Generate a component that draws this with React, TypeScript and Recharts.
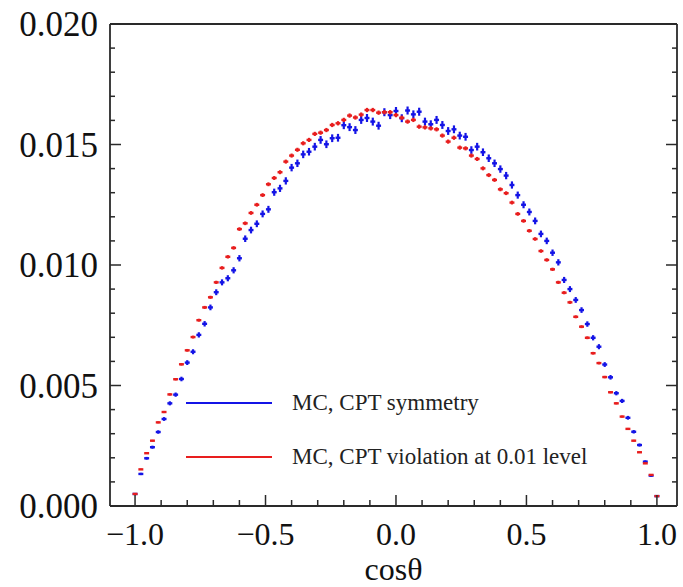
import React from 'react';
import { ScatterChart, Scatter, XAxis, YAxis, ErrorBar, Legend } from 'recharts';

// 90 bins over cosθ in [-1, 1], one value per bin edge/centre (91 points)
const BINS = 90;
const HALF_BIN = 0.0095;

// MC, CPT symmetry (blue)
const cptSymmetry = [
  0.0005, 0.00133, 0.00198, 0.00244, 0.00307, 0.00361, 0.00426, 0.00462, 0.00527, 0.00595,
  0.0064, 0.0071, 0.00756, 0.00824, 0.00887, 0.00928, 0.00945, 0.00978, 0.01028, 0.01109,
  0.01145, 0.01171, 0.01212, 0.01231, 0.01302, 0.01318, 0.01349, 0.01404, 0.01422, 0.01459,
  0.0147, 0.01491, 0.01519, 0.01501, 0.01526, 0.01528, 0.0158, 0.01572, 0.0156, 0.01602,
  0.0161, 0.01595, 0.01578, 0.01634, 0.01622, 0.01639, 0.01609, 0.01641, 0.01625, 0.01636,
  0.01595, 0.01584, 0.01602, 0.01581, 0.01556, 0.01563, 0.01537, 0.01532, 0.01477, 0.01491,
  0.01468, 0.01443, 0.01422, 0.01398, 0.01371, 0.01332, 0.0129, 0.0125, 0.0122, 0.01183,
  0.01129, 0.011, 0.01051, 0.01011, 0.00938, 0.009, 0.00855, 0.00813, 0.00755, 0.00698,
  0.00661, 0.00587, 0.00534, 0.00468, 0.00436, 0.00366, 0.00308, 0.00253, 0.00184, 0.00126,
  0.00041,
];

// MC, CPT violation at 0.01 level (red)
const cptViolation = [
  0.0005, 0.00152, 0.00219, 0.00271, 0.00347, 0.0039, 0.00463, 0.00526, 0.00588, 0.00646,
  0.00701, 0.00771, 0.00824, 0.00866, 0.00928, 0.00988, 0.01034, 0.01071, 0.01149, 0.01173,
  0.01216, 0.0125, 0.0129, 0.01335, 0.01361, 0.01385, 0.01429, 0.01454, 0.01478, 0.01505,
  0.01519, 0.01544, 0.01549, 0.0156, 0.01581, 0.01588, 0.01602, 0.0162, 0.01612, 0.01624,
  0.01643, 0.01643, 0.01632, 0.01634, 0.01634, 0.01622, 0.01611, 0.01595, 0.01602, 0.01574,
  0.01571, 0.01567, 0.01563, 0.01537, 0.01512, 0.01528, 0.01487, 0.01484, 0.01454, 0.0144,
  0.01401, 0.01373, 0.01353, 0.01314, 0.01298, 0.01259, 0.01212, 0.01183, 0.01142, 0.01108,
  0.01058, 0.01021, 0.00982, 0.00928, 0.00885, 0.00845, 0.00785, 0.00744, 0.00698, 0.00634,
  0.00593, 0.00535, 0.00472, 0.00426, 0.00371, 0.0032, 0.00271, 0.00223, 0.00177, 0.00129,
  0.00041,
];

const xTicks = [
  -1.0, -0.9, -0.8, -0.7, -0.6, -0.5, -0.4, -0.3, -0.2, -0.1, 0.0,
  0.1, 0.2, 0.3, 0.4, 0.5, 0.6, 0.7, 0.8, 0.9, 1.0,
];
const yTicks = [
  0, 0.001, 0.002, 0.003, 0.004, 0.005, 0.006, 0.007, 0.008, 0.009, 0.01,
  0.011, 0.012, 0.013, 0.014, 0.015, 0.016, 0.017, 0.018, 0.019, 0.02,
];

const BLUE = '#1414e6';
const RED = '#e81e1e';
const FRAME = '#2a2a2a';
const SERIF = '"Liberation Serif", "Times New Roman", serif';

const toPoints = (values: number[], errScale: number) =>
  values.map((y, i) => ({
    x: -1 + (2 * i) / BINS,
    y,
    ex: HALF_BIN,
    ey: errScale * Math.sqrt(y),
  }));

const blueData = toPoints(cptSymmetry, 0.0013);
const redData = toPoints(cptViolation, 0.0007);

const isMajorX = (v: number) => Math.abs(v * 2 - Math.round(v * 2)) < 1e-6;
const isMajorY = (v: number) => Math.abs(v * 200 - Math.round(v * 200)) < 1e-6;
const fmtX = (v: number) => (v < -1e-9 ? '\u2212' : '') + Math.abs(v).toFixed(1);

function BottomTick({ x, y, payload }: any) {
  const major = isMajorX(payload.value);
  return (
    <g>
      <line x1={x} y1={y} x2={x} y2={y - (major ? 11 : 6)} stroke={FRAME} strokeWidth={1.5} />
      {major && (
        <text x={x} y={y + 39} textAnchor="middle" fontSize={32} fontFamily={SERIF} fill="#111">
          {fmtX(payload.value)}
        </text>
      )}
    </g>
  );
}

function TopTick({ x, y, payload }: any) {
  const major = isMajorX(payload.value);
  return <line x1={x} y1={y} x2={x} y2={y + (major ? 11 : 6)} stroke={FRAME} strokeWidth={1.5} />;
}

function LeftTick({ x, y, payload }: any) {
  const major = isMajorY(payload.value);
  return (
    <g>
      <line x1={x} y1={y} x2={x + (major ? 11 : 5)} y2={y} stroke={FRAME} strokeWidth={1.5} />
      {major && (
        <text x={x - 12} y={y + 12} textAnchor="end" fontSize={35} fontFamily={SERIF} fill="#111">
          {payload.value.toFixed(3)}
        </text>
      )}
    </g>
  );
}

function RightTick({ x, y, payload }: any) {
  const major = isMajorY(payload.value);
  return <line x1={x} y1={y} x2={x - (major ? 11 : 5)} y2={y} stroke={FRAME} strokeWidth={1.5} />;
}

function LegendBox({ payload }: any) {
  return (
    <div style={{ fontFamily: SERIF, fontSize: 23, color: '#222' }}>
      {(payload || []).map((p: any) => (
        <div key={p.value} style={{ display: 'flex', alignItems: 'center', height: 54 }}>
          <div style={{ width: 86, height: 2, background: p.color }} />
          <span style={{ marginLeft: 20, whiteSpace: 'nowrap' }}>{p.value}</span>
        </div>
      ))}
    </div>
  );
}

const noMarker = () => <g />;

export default function App() {
  const axisLine = { stroke: FRAME, strokeWidth: 1.8 };
  return (
    <div style={{ position: 'absolute', left: 0, top: 0, width: 683, height: 587, background: '#fff' }}>
      <ScatterChart width={683} height={587} margin={{ top: 23, right: 5, bottom: 0, left: 0 }}>
        <XAxis
          type="number"
          dataKey="x"
          domain={[-1.096, 1.077]}
          allowDataOverflow
          ticks={xTicks}
          interval={0}
          height={81}
          tickSize={0}
          tickMargin={0}
          axisLine={axisLine}
          tickLine={false}
          tick={<BottomTick />}
          label={{ value: 'cosθ', position: 'insideBottom', offset: 7, fontSize: 32, fontFamily: SERIF, fill: '#111' }}
        />
        <XAxis
          xAxisId="top"
          orientation="top"
          type="number"
          domain={[-1.096, 1.077]}
          allowDataOverflow
          ticks={xTicks}
          interval={0}
          height={1}
          tickSize={0}
          tickMargin={0}
          axisLine={axisLine}
          tickLine={false}
          tick={<TopTick />}
        />
        <YAxis
          type="number"
          dataKey="y"
          domain={[0, 0.02]}
          allowDataOverflow
          ticks={yTicks}
          interval={0}
          width={110}
          tickSize={0}
          tickMargin={0}
          axisLine={axisLine}
          tickLine={false}
          tick={<LeftTick />}
        />
        <YAxis
          yAxisId="right"
          orientation="right"
          type="number"
          domain={[0, 0.02]}
          allowDataOverflow
          ticks={yTicks}
          interval={0}
          width={1}
          tickSize={0}
          tickMargin={0}
          axisLine={axisLine}
          tickLine={false}
          tick={<RightTick />}
        />
        <Legend
          layout="vertical"
          align="center"
          verticalAlign="middle"
          wrapperStyle={{ left: 186, top: 376, width: 440 }}
          content={<LegendBox />}
        />
        <Scatter name="MC, CPT symmetry" data={blueData} fill={BLUE} shape={noMarker} isAnimationActive={false}>
          <ErrorBar dataKey="ex" direction="x" width={0} stroke={BLUE} strokeWidth={2.4} isAnimationActive={false} />
          <ErrorBar dataKey="ey" direction="y" width={0} stroke={BLUE} strokeWidth={2.2} isAnimationActive={false} />
        </Scatter>
        <Scatter name="MC, CPT violation at 0.01 level" data={redData} fill={RED} shape={noMarker} isAnimationActive={false}>
          <ErrorBar dataKey="ex" direction="x" width={0} stroke={RED} strokeWidth={2.4} isAnimationActive={false} />
          <ErrorBar dataKey="ey" direction="y" width={0} stroke={RED} strokeWidth={2.2} isAnimationActive={false} />
        </Scatter>
      </ScatterChart>
    </div>
  );
}
